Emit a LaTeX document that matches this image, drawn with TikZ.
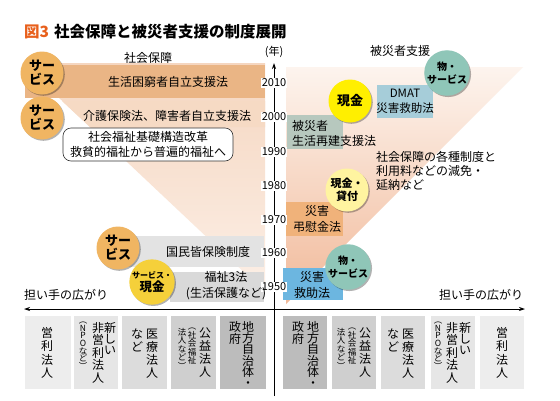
\documentclass[tikz,border=0pt]{standalone}
\usepackage{fontspec}
\setmainfont{Noto Sans CJK JP}
\usetikzlibrary{shadows,arrows.meta}
\newcommand\fsz[2]{\fontsize{#1}{#2}\selectfont}
\definecolor{titleor}{HTML}{E8601C}
\definecolor{triL1}{HTML}{F5D6C0}
\definecolor{triL2}{HTML}{FCEFE6}
\definecolor{triR1}{HTML}{FDF4EE}
\definecolor{triR2}{HTML}{F1B999}
\definecolor{bandOr}{HTML}{EAB585}
\definecolor{bandPe}{HTML}{F6DAC4}
\definecolor{grayA}{HTML}{E3E3E3}
\definecolor{grayB}{HTML}{D9D9D9}
\definecolor{boxGreen}{HTML}{B7C8BE}
\definecolor{boxOr}{HTML}{F0B27A}
\definecolor{boxBlue}{HTML}{6CB6E0}
\definecolor{boxDmat}{HTML}{A6CDD9}
\definecolor{orC}{HTML}{F0B562}
\definecolor{yeC}{HTML}{F5D03A}
\definecolor{brY}{HTML}{FFEF00}
\definecolor{ltY}{HTML}{FFF4A0}
\definecolor{teC}{HTML}{8FC6B8}
\definecolor{lv1}{HTML}{EDEDED}
\definecolor{lv2}{HTML}{E6E6E6}
\definecolor{lv3}{HTML}{DCDCDC}
\definecolor{lv4}{HTML}{CFCFCF}
\definecolor{lv5}{HTML}{BCBCBC}
\begin{document}
\begin{tikzpicture}[x=1pt,y=-1pt,
  txt/.style={inner sep=0pt, align=center, font=\fsz{12}{15.5}},
  circ/.style={circle, minimum size=43pt, inner sep=0pt, align=center, font=\bfseries\fsz{13}{14},
    drop shadow={shadow xshift=1.3pt, shadow yshift=-1.3pt, fill=black, opacity=0.3}},
  yr/.style={fill=white, inner sep=1pt, font=\fsz{11}{12}},
  vcol/.style={anchor=north, inner sep=0pt, align=center, font=\fsz{12}{12.5}},
  vsm/.style={anchor=north, inner sep=0pt, align=center, font=\fsz{8.5}{8.5}},
  hdr/.style={inner sep=0pt, font=\fsz{12}{14}},
  arr/.style={line width=0.8pt},
]
\useasboundingbox (0,0) rectangle (560,400);
\fill[white] (0,0) rectangle (560,400);

% title
\node[anchor=west, inner sep=0pt, font=\bfseries\fsz{15.5}{17}] (title) at (24,32)
  {{\color{titleor}図3}\hspace{5pt}社会保障と被災者支援の制度展開};

% background triangles
\shade[top color=triL1, bottom color=triL2] (22,63) -- (265,63) -- (265,292) -- cycle;
\shade[top color=triR1, bottom color=triR2] (286,67) -- (523,67) -- (286,304) -- cycle;

% left bands
\fill[bandOr] (25,65) rectangle (265,98);
\fill[bandPe] (62,101) -- (265,101) -- (265,127) -- (90,127) -- cycle;
\fill[grayA] (110,236) rectangle (264,267);
\fill[grayB] (170,272) rectangle (264,302);

% right boxes
\fill[boxGreen] (287,115) rectangle (343,149);
\fill[boxOr] (286,202) rectangle (343,236);
\fill[boxBlue] (283,268) rectangle (343,300);
\fill[boxDmat] (377,85) rectangle (433,118);

% bottom boxes
\fill[lv1] (25,316) rectangle (71,389);
\fill[lv2] (74,316) rectangle (118,389);
\fill[lv3] (122,316) rectangle (167,389);
\fill[lv4] (171,316) rectangle (216,389);
\fill[lv5] (220,316) rectangle (266,389);
\fill[lv5] (283,316) rectangle (327,389);
\fill[lv4] (332,316) rectangle (376,389);
\fill[lv3] (381,316) rectangle (425,389);
\fill[lv2] (431,316) rectangle (475,389);
\fill[lv1] (480,316) rectangle (524,389);

% axes
\coordinate (axbot) at (274,396);
\coordinate (axtop) at (274,63);
\draw[arr, -{Stealth[length=6pt,width=4pt]}] (axbot) -- (axtop);
\coordinate (hl) at (24,309);
\coordinate (hr) at (525,309);
\draw[arr, {Stealth[length=6pt,width=4pt]}-{Stealth[length=6pt,width=4pt]}] (hl) -- (hr);

% years
\node[hdr, font=\fsz{11}{12}] (nen) at (274,52) {(年)};
\node[yr] (y2010) at (274,83) {2010};
\node[yr] (y2000) at (274,117) {2000};
\node[yr] (y1990) at (274,152) {1990};
\node[yr] (y1980) at (274,186) {1980};
\node[yr] (y1970) at (274,220) {1970};
\node[yr] (y1960) at (274,253) {1960};
\node[yr] (y1950) at (274,287) {1950};

% headers
\node[hdr] (hL) at (148,58) {社会保障};
\node[hdr] (hR) at (400,51) {被災者支援};

% left texts
\node[txt] (tKonkyu) at (168,82) {生活困窮者自立支援法};
\node[txt] (tKaigo) at (167,116) {介護保険法、障害者自立支援法};
\node[txt, draw=black!80, line width=0.6pt, fill=white, rounded corners=8pt,
      minimum width=170pt, minimum height=33pt, font=\fsz{12}{14.5}] (tKozo) at (148,144.5)
  {社会福祉基礎構造改革\\救貧的福祉から普遍的福祉へ};
\node[txt] (tKaiho) at (208,252) {国民皆保険制度};
\node[txt] (tFukushi) at (226,285.5) {福祉3法\\(生活保護など)};
\node[txt] (tNinaiL) at (66,295) {担い手の広がり};
\node[txt] (tNinaiR) at (481,295) {担い手の広がり};

% right texts
\node[txt, font=\fsz{11.5}{14.5}] (tDmat) at (405,101.5) {DMAT\\災害救助法};
\node[txt, align=left, anchor=west] (tSaiken) at (292,133.5) {被災者\\生活再建支援法};
\node[txt, align=left, anchor=north west, font=\fsz{12}{14}] (tGenmen) at (376,151)
  {社会保障の各種制度と\\利用料などの減免・\\延納など};
\node[txt] (tChoi) at (317,219) {災害\\弔慰金法};
\node[txt] (tKyujo) at (312,285) {災害\\救助法};

% circles
\node[circ, fill=orC] (c1) at (42,73) {サー\\ビス};
\node[circ, fill=orC] (c2) at (42,118) {サー\\ビス};
\node[circ, fill=orC] (c3) at (118,248) {サー\\ビス};
\node[circ, fill=yeC, font=\bfseries\fsz{8}{13}] (c4) at (152,282) {サービス・\\{\fsz{12.5}{13}現金}};
\node[circ, fill=brY] (c5) at (350,101) {現金};
\node[circ, fill=teC, font=\bfseries\fsz{10}{12.5}] (c6) at (447,73) {物・\\サービス};
\node[circ, fill=ltY, font=\bfseries\fsz{11}{13.5}] (c7) at (347,190) {現金・\\貸付};
\node[circ, fill=teC, font=\bfseries\fsz{10}{12.5}] (c8) at (348,267) {物・\\サービス};

% bottom vertical texts, left side
\node[vcol, font=\fsz{12}{13.5}] (L1a) at (47,327) {営\\利\\法\\人};
\node[vcol, font=\fsz{12}{11}] (L2a) at (110,322) {新\\し\\い};
\node[vcol] (L2b) at (98,322) {非\\営\\利\\法\\人};
\node[vsm, font=\fsz{8.5}{7.6}] (L2c) at (83,322) {︵\\N\\P\\O\\な\\ど\\︶};
\node[vcol, font=\fsz{12}{13}] (L3a) at (152,329) {医\\療\\法\\人};
\node[vcol] (L3b) at (137,329) {な\\ど};
\node[vcol, font=\fsz{12}{13}] (L4a) at (205,328) {公\\益\\法\\人};
\node[vsm] (L4b) at (192,328) {︵\\社\\会\\福\\祉};
\node[vsm] (L4c) at (182,328) {法\\人\\な\\ど\\︶};
\node[vcol, font=\fsz{12}{11.3}] (L5a) at (248,321) {地\\方\\自\\治\\体\\・};
\node[vcol] (L5b) at (235,321) {政\\府};

% bottom vertical texts, right side
\node[vcol, font=\fsz{12}{11.3}] (R1a) at (313,321) {地\\方\\自\\治\\体\\・};
\node[vcol] (R1b) at (298,321) {政\\府};
\node[vcol, font=\fsz{12}{13}] (R2a) at (365,328) {公\\益\\法\\人};
\node[vsm] (R2b) at (352,328) {︵\\社\\会\\福\\祉};
\node[vsm] (R2c) at (341,328) {法\\人\\な\\ど\\︶};
\node[vcol, font=\fsz{12}{13}] (R3a) at (408,329) {医\\療\\法\\人};
\node[vcol] (R3b) at (393,329) {な\\ど};
\node[vcol, font=\fsz{12}{11}] (R4a) at (465,322) {新\\し\\い};
\node[vcol] (R4b) at (452,322) {非\\営\\利\\法\\人};
\node[vsm, font=\fsz{8.5}{7.6}] (R4c) at (438,322) {︵\\N\\P\\O\\な\\ど\\︶};
\node[vcol, font=\fsz{12}{13.5}] (R5a) at (502,327) {営\\利\\法\\人};
\end{tikzpicture}
\end{document}
